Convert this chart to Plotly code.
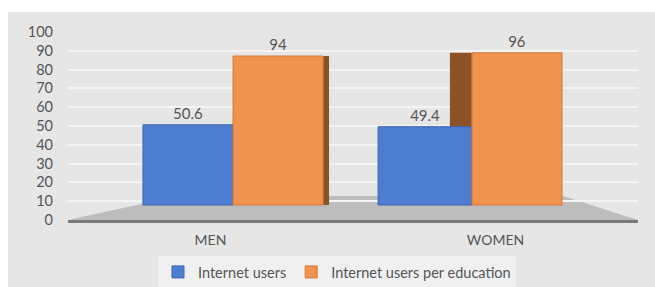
import plotly.graph_objects as go

categories = ["MEN", "WOMEN"]
internet_users = [50.6, 49.4]
internet_users_per_education = [94, 96]
y_tick_values = [0, 10, 20, 30, 40, 50, 60, 70, 80, 90, 100]

W, H = 655, 287


def px(x):
    return x / W


def py(y):
    return (H - y) / H


FONT = "Lato"
TXT = "#555555"

fig = go.Figure()

# empty trace so the tick axis (y) owns the subplot
fig.add_trace(go.Scatter(x=categories, y=[None, None], mode="markers",
                         showlegend=False, hoverinfo="skip"))

# dark side faces of the orange 3D columns
fig.add_trace(go.Bar(
    x=categories, y=internet_users_per_education, yaxis="y2",
    offset=[0.395, -0.16], width=[0.021, 0.077],
    marker=dict(color="#8c5426", line_width=0),
    showlegend=False, hoverinfo="skip",
))
fig.add_trace(go.Bar(
    name="Internet users", x=categories, y=internet_users, yaxis="y2",
    offset=[-0.237, -0.412], width=[0.316, 0.33],
    marker=dict(color="#4d7dd1", line=dict(color="#3d66b0", width=1)),
    text=[str(v) for v in internet_users], textposition="outside",
    textfont=dict(family=FONT, size=15, color=TXT), cliponaxis=False,
))
fig.add_trace(go.Bar(
    name="Internet users per education", x=categories, y=internet_users_per_education,
    yaxis="y2",
    offset=[0.079, -0.0825], width=[0.316, 0.316],
    marker=dict(color="#f0934f", line=dict(color="#d77a36", width=1)),
    text=[str(v) for v in internet_users_per_education], textposition="outside",
    textfont=dict(family=FONT, size=15, color=TXT), cliponaxis=False,
))

shapes = [
    # chart area background
    dict(type="rect", xref="paper", yref="paper", x0=px(8), x1=1, y0=0, y1=py(12),
         fillcolor="#e6e6e6", line_width=0, layer="below"),
    # floor
    dict(type="path", xref="paper", yref="paper",
         path=f"M {px(68)},{py(220)} L {px(178)},{py(196)} L {px(563)},{py(196)} L {px(638)},{py(220)} Z",
         fillcolor="#bdbdbd", line_width=0, layer="below"),
]

fig.update_layout(
    width=W, height=H,
    margin=dict(l=0, r=0, t=0, b=0, autoexpand=False),
    paper_bgcolor="white",
    plot_bgcolor="rgba(0,0,0,0)",
    barmode="overlay",
    shapes=shapes,
    font=dict(family=FONT, color=TXT),
    xaxis=dict(
        domain=[px(68), px(638)], type="category", range=[-0.5, 1.5],
        showline=True, linecolor="#7a7a7a", linewidth=3,
        showgrid=False, ticks="", tickfont=dict(family=FONT, size=14, color=TXT),
        ticklabelstandoff=5, automargin=False, anchor="y",
    ),
    yaxis=dict(
        domain=[py(220), py(32)], range=[0, 100], tickvals=y_tick_values,
        showgrid=True, gridcolor="#f4f4f4", gridwidth=1.5, zeroline=False,
        showline=False, ticks="", tickfont=dict(family=FONT, size=14.5, color=TXT),
        ticklabelstandoff=14, automargin=False, anchor="x",
    ),
    yaxis2=dict(
        overlaying="y", range=[-9.46, 109.15], visible=False, anchor="x",
    ),
    legend=dict(
        orientation="h", x=px(337), xanchor="center", y=py(272), yanchor="middle",
        bgcolor="#f0f0f0", font=dict(family=FONT, size=14.5, color=TXT),
        traceorder="normal",
    ),
)

fig.write_html("out.html", config={"displayModeBar": False},
               post_script="document.body.style.margin='0';")
